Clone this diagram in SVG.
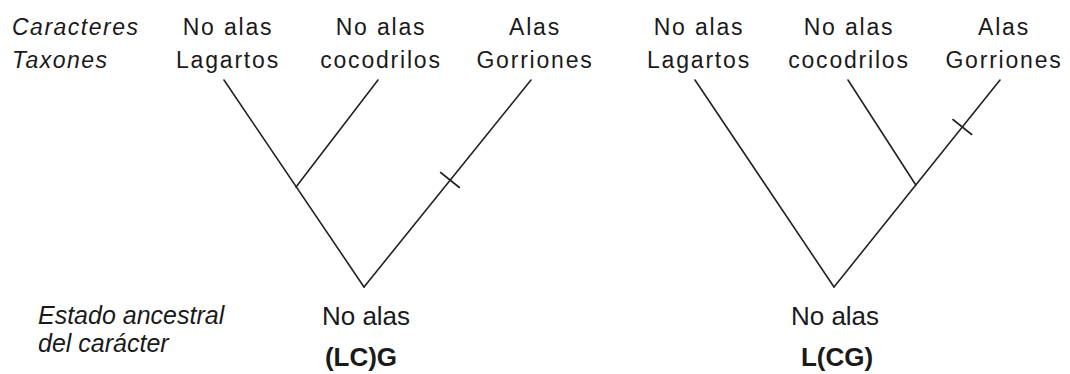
<svg xmlns="http://www.w3.org/2000/svg" width="1070" height="374" viewBox="0 0 1070 374">
<style>
.top{font-family:"Liberation Sans",Arial,sans-serif;font-size:23px;letter-spacing:1.8px;fill:#1a1a1a;text-anchor:middle}
.topi{font-family:"Liberation Sans",Arial,sans-serif;font-size:23px;letter-spacing:1.5px;fill:#1a1a1a;font-style:italic}
.bot{font-family:"Liberation Sans",Arial,sans-serif;font-size:26px;fill:#1a1a1a}
.leg{font-family:"Liberation Sans",Arial,sans-serif;font-size:25px;fill:#1a1a1a;font-style:italic}
.mid{text-anchor:middle}
.b{font-weight:bold}
.br{stroke:#222;stroke-width:1.6;fill:none;stroke-linecap:round}
</style>
<rect width="1070" height="374" fill="#fff"/>
<g id="legend">
<text class="topi" x="12" y="35">Caracteres</text>
<text class="topi" x="12" y="68">Taxones</text>
<text class="leg" x="38" y="324">Estado ancestral</text>
<text class="leg" x="38" y="352">del carácter</text>
</g>
<g id="tree1-lagartos"><text class="top" x="228" y="35">No alas</text><text class="top" x="228" y="68">Lagartos</text></g>
<g id="tree1-cocodrilos"><text class="top" x="381" y="35">No alas</text><text class="top" x="381" y="68">cocodrilos</text></g>
<g id="tree1-gorriones"><text class="top" x="535" y="35">Alas</text><text class="top" x="535" y="68">Gorriones</text></g>
<g id="tree1-root"><text class="bot mid" x="366" y="325">No alas</text><text class="bot mid b" x="361" y="366">(LC)G</text></g>
<g id="tree2-lagartos"><text class="top" x="699" y="35">No alas</text><text class="top" x="699" y="68">Lagartos</text></g>
<g id="tree2-cocodrilos"><text class="top" x="849" y="35">No alas</text><text class="top" x="849" y="68">cocodrilos</text></g>
<g id="tree2-gorriones"><text class="top" x="1004" y="35">Alas</text><text class="top" x="1004" y="68">Gorriones</text></g>
<g id="tree2-root"><text class="bot mid" x="835" y="325">No alas</text><text class="bot mid b" x="837" y="366">L(CG)</text></g>
<g id="connectors">
<line class="br" x1="224" y1="80" x2="364" y2="287"/>
<line class="br" x1="378" y1="80" x2="296" y2="187"/>
<line class="br" x1="531" y1="80" x2="364" y2="287"/>
<line class="br" x1="440.6" y1="172.5" x2="459.4" y2="187.5"/>
<line class="br" x1="952.9" y1="119.5" x2="971.7" y2="134.5"/>
<line class="br" x1="695" y1="80" x2="834" y2="287"/>
<line class="br" x1="848" y1="80" x2="915.8" y2="185"/>
<line class="br" x1="1000" y1="80" x2="834" y2="287"/>
</g>
</svg>
